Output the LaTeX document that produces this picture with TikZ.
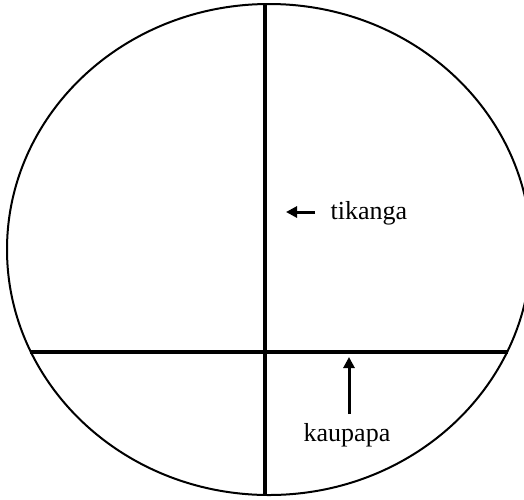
\documentclass[tikz,border=0pt]{standalone}
\usepackage{fontspec}
\setmainfont{Liberation Serif}
\usetikzlibrary{arrows.meta, positioning}

\begin{document}
\begin{tikzpicture}[x=1pt, y=-1pt,
    divider/.style={line width=4pt},
    pointer/.style={line width=3pt, -{Triangle[length=11pt, width=11pt]}},
    label/.style={font=\fontsize{26}{30}\selectfont, inner sep=0pt}]
  \useasboundingbox (0,0) rectangle (524,499);
  \clip (0,0) rectangle (524,499);
  % outer ring
  \draw[line width=2pt] (269,249.5) ellipse [x radius=262, y radius=245.5];
  % cross lines
  \coordinate (vtop) at (265,4);
  \coordinate (vbot) at (265,495);
  \coordinate (hleft) at (30,352);
  \coordinate (hright) at (508,352);
  \draw[divider] (vtop) -- (vbot);
  \draw[divider] (hleft) -- (hright);
  % labels and pointers
  \node[label] (tikanga) at (369,213) {tikanga};
  \node[label] (kaupapa) at (347,435) {kaupapa};
  \coordinate (tiktail) at (315,212);
  \coordinate (tiktip) at (286,212);
  \coordinate (kautail) at (349,414);
  \coordinate (kautip) at (349,357);
  \draw[pointer] (tiktail) -- (tiktip);
  \draw[pointer] (kautail) -- (kautip);
\end{tikzpicture}
\end{document}
